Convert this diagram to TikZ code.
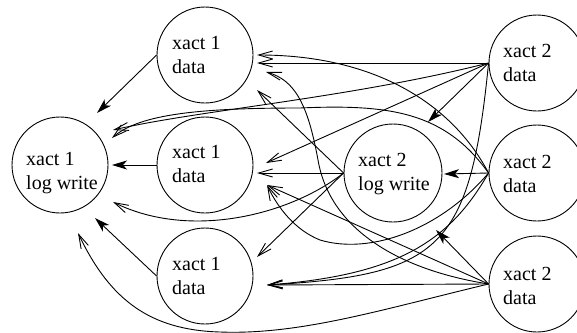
\documentclass[tikz,border=0pt]{standalone}
\usepackage{fontspec}
\setmainfont{Liberation Serif}
\usetikzlibrary{arrows.meta,calc}
\begin{document}
\begin{tikzpicture}[x=1pt,y=-1pt,
  st/.style={circle,draw,line width=0.9pt,minimum size=96pt,inner sep=0pt},
  lbl/.style={anchor=west,align=left,inner sep=0pt,font=\fontsize{20}{24.5}\selectfont},
  fa/.style={-{Stealth[length=15pt,width=9pt,inset=4pt]},line width=0.9pt},
  oa/.style={-{Straight Barb[length=14pt,width=8pt]},line width=0.9pt}]
\useasboundingbox (0,0) rectangle (577,332);
% nodes
\node[st] (L)  at (60,165) {};
\node[st] (A1) at (205,55) {};
\node[st] (B1) at (205,165) {};
\node[st] (C1) at (205,276) {};
\node[st,minimum size=98pt] (W2) at (393,173) {};
\node[st] (A2) at (537,63) {};
\node[st] (B2) at (537,173) {};
\node[st] (C2) at (537,284) {};
% labels
\node[lbl] (tL)  at (26,173) {xact 1\\log write};
\node[lbl] (tA1) at (172,55) {xact 1\\data};
\node[lbl] (tB1) at (172,164) {xact 1\\data};
\node[lbl] (tC1) at (172,276) {xact 1\\data};
\node[lbl] (tW2) at (358,174) {xact 2\\log write};
\node[lbl] (tA2) at (503,63) {xact 2\\data};
\node[lbl] (tB2) at (503,174) {xact 2\\data};
\node[lbl] (tC2) at (503,286) {xact 2\\data};
% arrow tips
\coordinate (pLA) at (97,113);
\coordinate (pLB) at (112,165);
\coordinate (pLC) at (95,218);
\coordinate (pLa) at (113,130);
\coordinate (pLb) at (112,138);
\coordinate (pLw) at (113,202);
\coordinate (pLc) at (78,233);
\coordinate (pAb) at (257,55);
\coordinate (pAa) at (257,63);
\coordinate (pAc) at (266,72);
\coordinate (pAw) at (257,90);
\coordinate (pBa) at (266,163);
\coordinate (pBw) at (257,173);
\coordinate (pBb) at (267,185);
\coordinate (pBc) at (267,185);
\coordinate (pCw) at (257,257);
\coordinate (pCc) at (267,285);
\coordinate (pWa) at (428,122);
\coordinate (pWb) at (444,174);
\coordinate (pWc) at (436,230);
% xact 1 data -> xact 1 log write
\draw[fa] (A1.west) -- (pLA);
\draw[fa] (B1.west) -- (pLB);
\draw[fa] (C1.west) -- (pLC);
% xact 2 data -> xact 2 log write
\draw[fa] (A2.west) -- (pWa);
\draw[fa] (B2.west) -- (pWb);
\draw[fa] (C2.west) -- (pWc);
% from A2
\draw[oa] (A2.west) -- (pAa);
\draw[oa] (A2.west) -- (pBa);
\draw[oa] (A2.west) .. controls (470,250) and (440,275) .. (pCc);
\draw[oa] (A2.west) .. controls (350,98) and (200,110) .. (pLa);
% from B2
\draw[oa] (B2.west) .. controls (450,100) and (370,55) .. (pAb);
\draw[oa] (B2.west) .. controls (440,230) and (370,255) .. (320,240) .. controls (295,230) and (278,208) .. (pBb);
\draw[oa] (B2.west) .. controls (450,240) and (400,275) .. (pCc);
\draw[oa] (B2.west) .. controls (445,112) and (390,104) .. (300,108) .. controls (200,108) and (140,114) .. (pLb);
% from C2
\draw[oa] (C2.west) .. controls (400,270) and (330,230) .. (318,160) .. controls (308,105) and (295,80) .. (pAc);
\draw[oa] (C2.west) -- (pBc);
\draw[oa] (C2.west) -- (pCc);
\draw[oa] (C2.west) .. controls (380,310) and (300,335) .. (220,332) .. controls (150,330) and (110,300) .. (pLc);
% from W2
\draw[oa] (W2.west) -- (pAw);
\draw[oa] (W2.west) -- (pBw);
\draw[oa] (W2.west) -- (pCw);
\draw[oa] (W2.west) .. controls (290,215) and (190,240) .. (pLw);
\end{tikzpicture}
\end{document}
